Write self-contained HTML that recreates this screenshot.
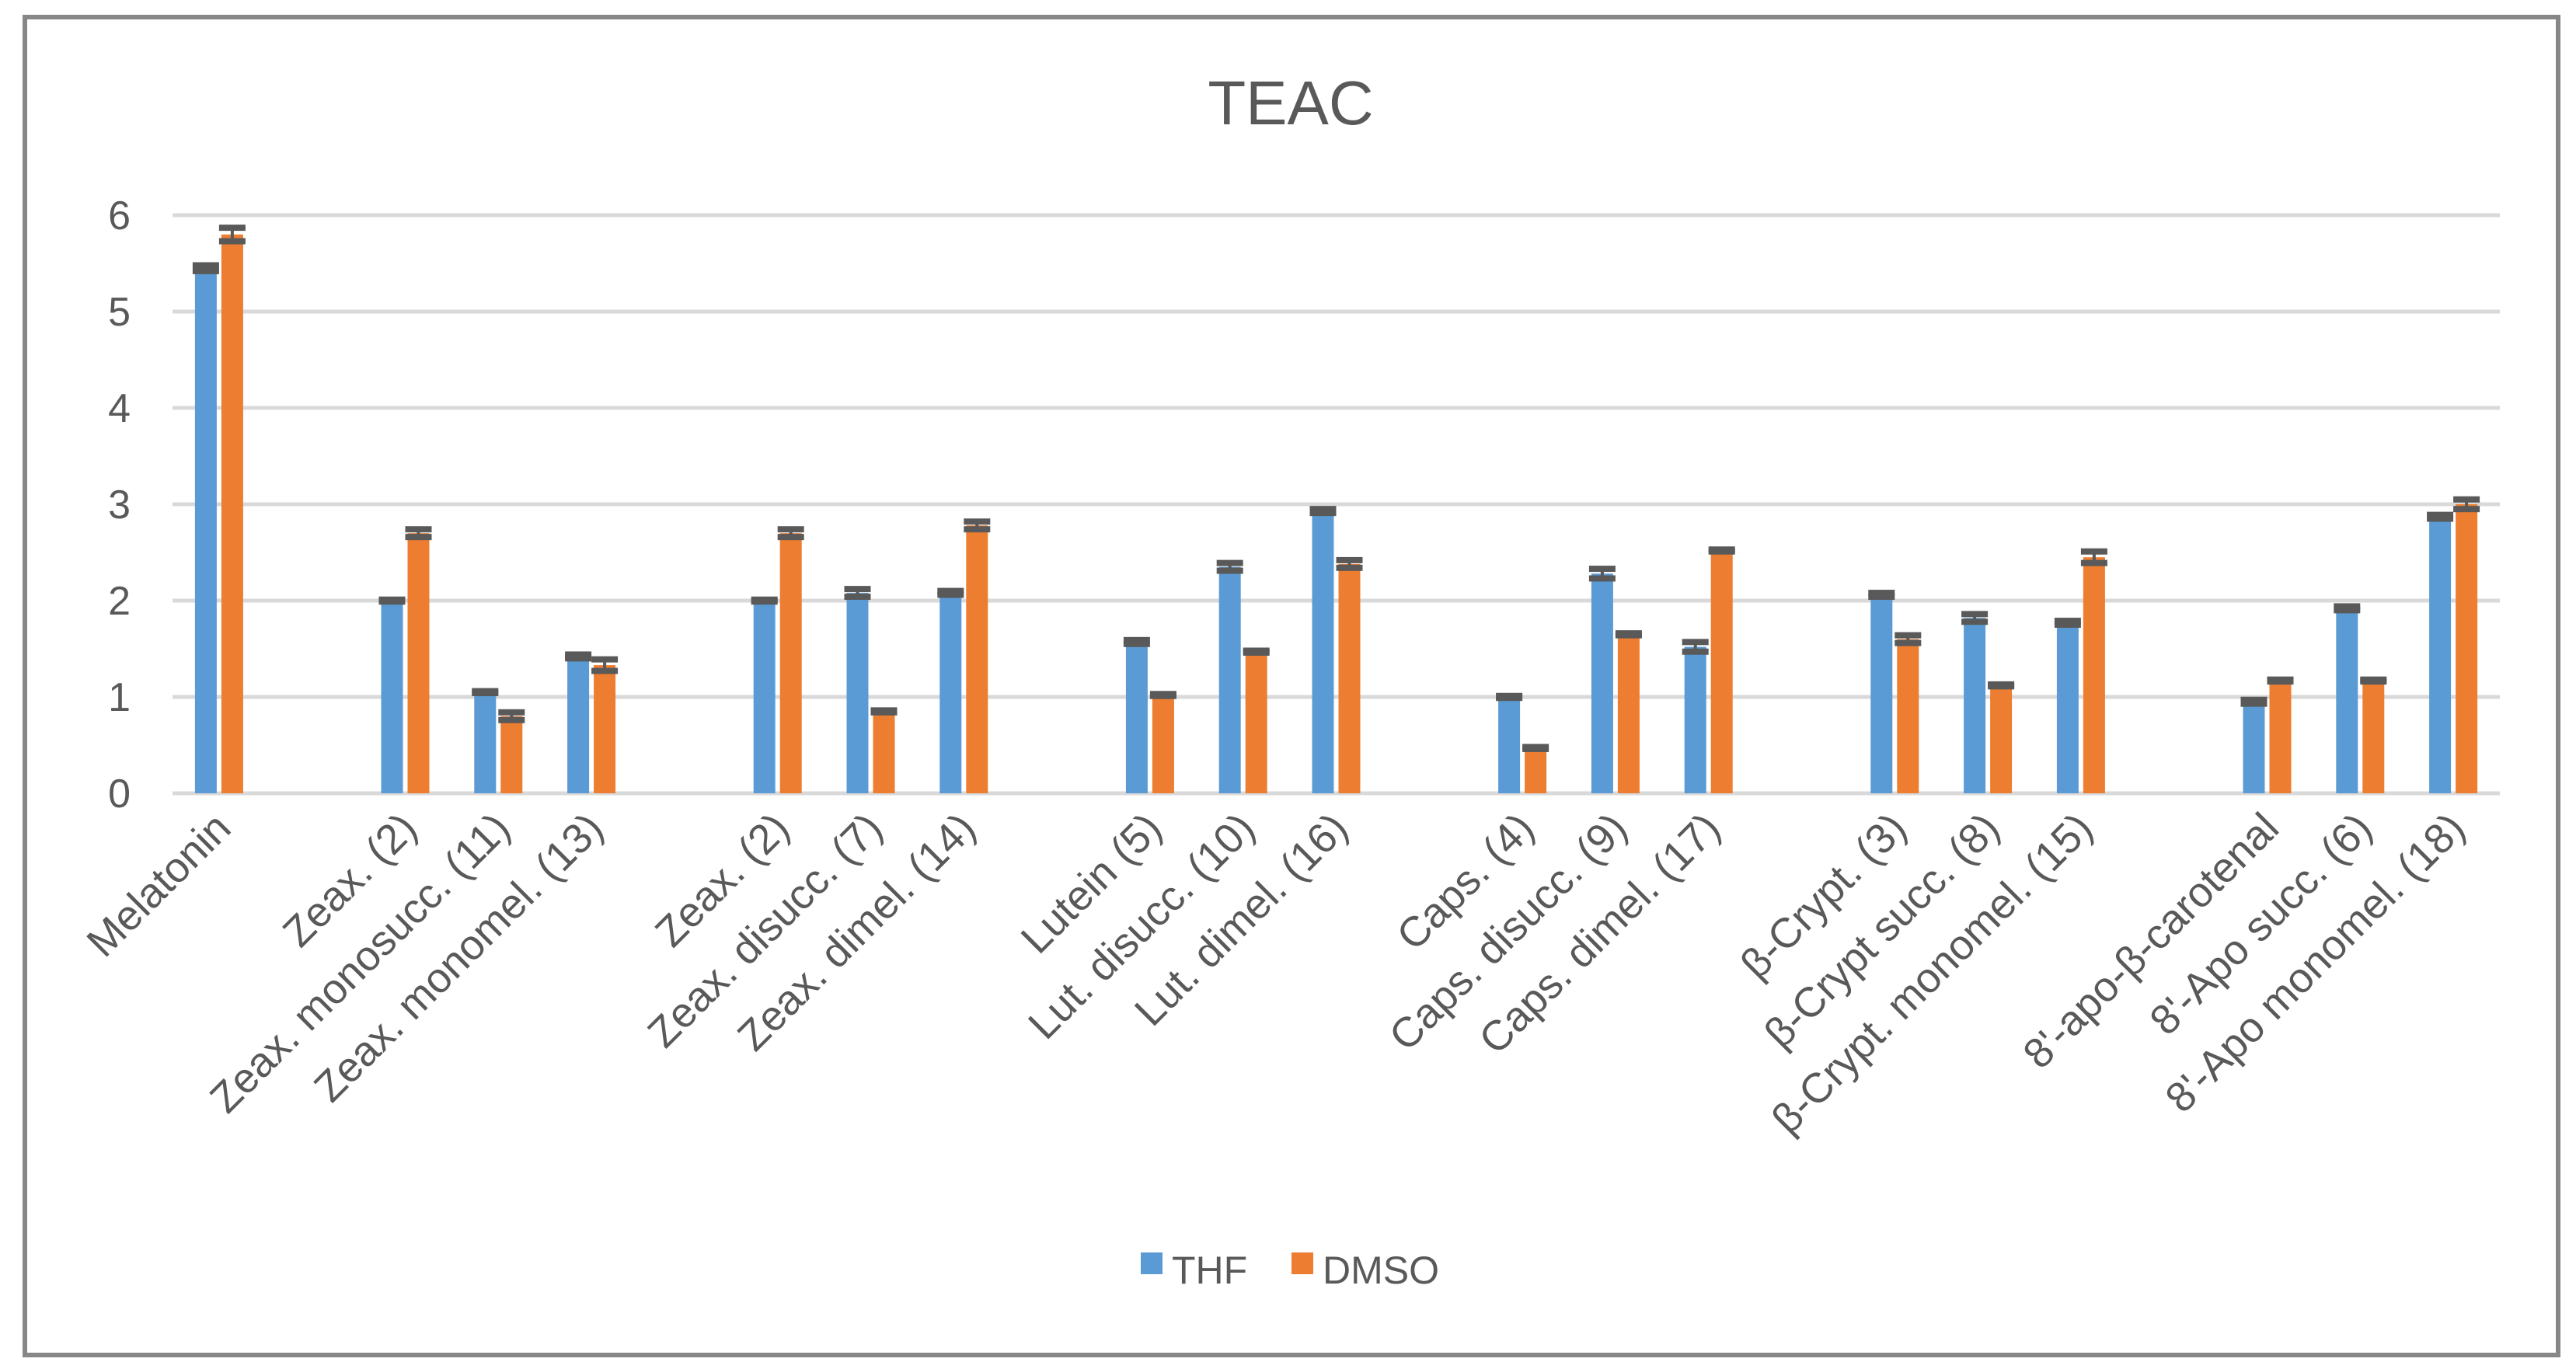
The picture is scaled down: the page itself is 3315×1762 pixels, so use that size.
<!DOCTYPE html>
<html><head><meta charset="utf-8"><style>
html,body{margin:0;padding:0;background:#fff;}
svg{display:block;font-family:"Liberation Sans","DejaVu Sans",sans-serif;}
</style></head><body>
<svg id="chart" width="3315" height="1762" viewBox="0 0 3315 1762">
<rect x="32" y="22" width="3260" height="1722" fill="#fff" stroke="#878787" stroke-width="6"/>
<text x="1661" y="160" font-size="80" fill="#595959" text-anchor="middle">TEAC</text>
<g id="grid"></g>
<g id="yticks"></g>
<g id="bars"></g>
<g id="xlabels"></g>
<g>
<rect x="1468" y="1612" width="28" height="28" fill="#5b9bd5"/>
<text x="1508" y="1652" font-size="50" fill="#595959">THF</text>
<rect x="1662" y="1612" width="28" height="28" fill="#ed7d31"/>
<text x="1702" y="1652" font-size="50" fill="#595959">DMSO</text>
</g>
</svg>
<script>
const categories = ["Melatonin","","Zeax. (2)","Zeax. monosucc. (11)","Zeax. monomel. (13)","","Zeax. (2)","Zeax. disucc. (7)","Zeax. dimel. (14)","","Lutein (5)","Lut. disucc. (10)","Lut. dimel. (16)","","Caps. (4)","Caps. disucc. (9)","Caps. dimel. (17)","","β-Crypt. (3)","β-Crypt succ. (8)","β-Crypt. monomel. (15)","","8'-apo-β-carotenal","8'-Apo succ. (6)","8'-Apo monomel. (18)"];
const thf = [5.45,null,2.0,1.05,1.42,null,2.0,2.08,2.08,null,1.57,2.35,2.93,null,1.0,2.28,1.52,null,2.06,1.82,1.77,null,0.95,1.92,2.87];
const thfErr = [0.03,0,0.01,0.01,0.02,0,0.01,0.04,0.02,0,0.02,0.04,0.02,0,0.01,0.05,0.05,0,0.02,0.04,0.02,0,0.02,0.02,0.02];
const dmso = [5.8,null,2.7,0.8,1.33,null,2.7,0.85,2.78,null,1.02,1.47,2.38,null,0.47,1.65,2.52,null,1.6,1.12,2.45,null,1.17,1.17,3.0];
const dmsoErr = [0.07,0,0.04,0.04,0.06,0,0.04,0.01,0.04,0,0.01,0.01,0.04,0,0.01,0.01,0.01,0,0.04,0.01,0.06,0,0.01,0.01,0.05];
const yTicks = [0,1,2,3,4,5,6];

const NS="http://www.w3.org/2000/svg";
const L=222,R=3217,Y0=1021,Y6=277;
const slot=(R-L)/categories.length;
const y=v=>Y0-(v/6)*(Y0-Y6);
const cx=i=>L+slot*(i+0.5);
function mk(t,a,p){const e=document.createElementNS(NS,t);for(const k in a)e.setAttribute(k,a[k]);p.appendChild(e);return e;}
const grid=document.getElementById('grid'),yt=document.getElementById('yticks'),bars=document.getElementById('bars'),xl=document.getElementById('xlabels');
yTicks.forEach(t=>{
  const g=mk('line',{x1:L,x2:R,y1:y(t),y2:y(t),stroke:'#d9d9d9','stroke-width':5},grid);
  
  
  const tx=mk('text',{x:168,y:y(t)+18,'font-size':52,fill:'#595959','text-anchor':'end'},yt);
  tx.textContent=t;
  
  
});
const bw=28;
function bar(i,v,e,off,col,nm){
  if(v==null)return;
  const x=cx(i)+off;
  const r=mk('rect',{x:x,y:y(v),width:bw,height:Y0-y(v),fill:col},bars);
  
  
  const m=x+bw/2;
  const eg=mk('g',{fill:'#595959'},bars);
  
  
  mk('rect',{x:m-2,y:y(v+e),width:4,height:y(v-e)-y(v+e)},eg);
  mk('rect',{x:m-17,y:y(v+e)-4,width:34,height:8},eg);
  mk('rect',{x:m-17,y:y(v-e)-4,width:34,height:8},eg);
}
categories.forEach((c,i)=>{
  bar(i,thf[i],thfErr[i],-31,'#5b9bd5','thf');
  bar(i,dmso[i],dmsoErr[i],3,'#ed7d31','dmso');
  if(c){
    const px=cx(i)+18,py=Y0+48;
    const t=mk('text',{x:px,y:py,'font-size':54,fill:'#595959','text-anchor':'end',transform:`rotate(-45 ${px} ${py})`},xl);
    t.textContent=c;
    
    
  }
});
</script>
</body></html>
